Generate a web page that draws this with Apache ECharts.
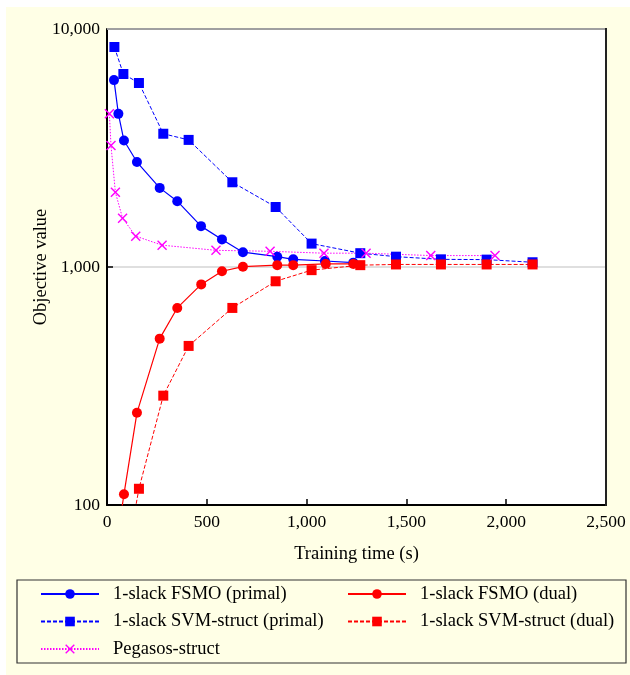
<!DOCTYPE html>
<html>
<head>
<meta charset="utf-8">
<script src="https://cdn.jsdelivr.net/npm/echarts@6/dist/echarts.min.js"></script>
<style>html,body{margin:0;padding:0;background:#fff;}#c{width:630px;height:675px;}</style>
</head>
<body>
<div id="c"></div>
<script>
const xTicks = [0, 500, 1000, 1500, 2000, 2500];
const yTicks = [100, 1000, 10000];

const fsmoPrimalX = [35, 57, 85, 150, 264, 352, 471, 576, 681, 853, 933, 1092, 1234];
const fsmoPrimalY = [6100, 4400, 3400, 2760, 2150, 1890, 1485, 1306, 1154, 1105, 1077, 1060, 1043];

const fsmoDualX = [57, 85, 150, 264, 352, 472, 576, 681, 853, 933, 1096, 1234];
const fsmoDualY = [77, 111, 244, 500, 673, 845, 960, 1003, 1018, 1018, 1030, 1030];

const svmPrimalX = [37, 82, 160, 282, 409, 628, 845, 1025, 1269, 1448, 1673, 1902, 2132];
const svmPrimalY = [8400, 6470, 5930, 3630, 3420, 2270, 1787, 1254, 1143, 1105, 1077, 1074, 1047];

const svmDualX = [82, 160, 282, 409, 628, 845, 1025, 1269, 1448, 1673, 1902, 2132];
const svmDualY = [51, 117, 288, 466, 673, 871, 970, 1018, 1025, 1025, 1025, 1025];

const pegasosX = [12, 20, 42, 78, 144, 276, 546, 817, 1087, 1298, 1622, 1944];
const pegasosY = [4400, 3240, 2060, 1603, 1348, 1235, 1175, 1164, 1143, 1143, 1117, 1117];

const names = {
  fp: '1-slack FSMO (primal)',
  fd: '1-slack FSMO (dual)',
  sp: '1-slack SVM-struct (primal)',
  sd: '1-slack SVM-struct (dual)',
  pg: 'Pegasos-struct'
};

function pairs(xs, ys) { return xs.map((x, i) => [x, ys[i]]); }
function fmt(v) { return String(v).replace(/\B(?=(\d{3})+(?!\d))/g, ','); }

const FONT = 'Liberation Serif';
const BLUE = '#0000ff', RED = '#ff0000', MAG = '#ff00ff';
const XPATH = 'path://M0,1L1,0L5,4L9,0L10,1L6,5L10,9L9,10L5,6L1,10L0,9L4,5Z';

const legendText = {fontFamily: FONT, fontSize: 18.5, color: '#000', lineHeight: 20, padding: [0, 0, 0, 9]};

const chart = echarts.init(document.getElementById('c'), null, {renderer: 'canvas'});
chart.setOption({
  animation: false,
  backgroundColor: '#ffffff',
  graphic: [
    {type: 'rect', z: -10, shape: {x: 6, y: 7, width: 624, height: 668}, style: {fill: '#ffffe6'}},
    {type: 'rect', z: -9, shape: {x: 107, y: 29, width: 499, height: 476}, style: {fill: '#ffffff'}},
    {type: 'line', z: 1, shape: {x1: 107, y1: 29, x2: 606, y2: 29}, style: {stroke: '#a0a0a0', lineWidth: 2}},
    {type: 'line', z: 1, shape: {x1: 606, y1: 28, x2: 606, y2: 506}, style: {stroke: '#222', lineWidth: 2}},
    {type: 'rect', z: -8, shape: {x: 17, y: 580, width: 609, height: 83}, style: {fill: 'none', stroke: '#333', lineWidth: 1.2}}
  ],
  grid: {left: 107, top: 29, width: 499, height: 476, containLabel: false},
  xAxis: {
    type: 'value', min: 0, max: 2500, interval: 500,
    name: 'Training time (s)', nameLocation: 'middle', nameGap: 40, nameMoveOverlap: false,
    nameTextStyle: {fontFamily: FONT, fontSize: 18.5, color: '#000'},
    axisLine: {lineStyle: {color: '#000', width: 2}},
    axisTick: {inside: true, length: 6, lineStyle: {color: '#000', width: 1.5}},
    axisLabel: {fontFamily: FONT, fontSize: 17.5, color: '#000', margin: 8, formatter: v => fmt(v)},
    splitLine: {show: false}
  },
  yAxis: {
    type: 'log', logBase: 10, min: 100, max: 10000,
    name: 'Objective value', nameLocation: 'middle', nameGap: 56, nameMoveOverlap: false,
    nameTextStyle: {fontFamily: FONT, fontSize: 18.5, color: '#000'},
    axisLine: {lineStyle: {color: '#000', width: 2}},
    axisTick: {inside: true, length: 6, lineStyle: {color: '#000', width: 1.5}},
    axisLabel: {fontFamily: FONT, fontSize: 17.5, color: '#000', margin: 7, formatter: v => fmt(Math.round(v))},
    minorTick: {show: false},
    splitLine: {show: true, lineStyle: {color: '#d4d4d4', width: 1.5}}
  },
  legend: [
    {
      left: 40, top: 584, padding: 0, orient: 'vertical', itemWidth: 58, itemHeight: 12, itemGap: 7.5,
      selectedMode: false,
      data: [names.fp, names.sp, names.pg],
      textStyle: legendText
    },
    {
      left: 347, top: 584, padding: 0, orient: 'vertical', itemWidth: 58, itemHeight: 12, itemGap: 7.5,
      selectedMode: false,
      data: [names.fd, names.sd],
      textStyle: legendText
    }
  ],
  series: [
    {
      name: names.sp, type: 'line', data: pairs(svmPrimalX, svmPrimalY),
      symbol: 'rect', symbolSize: 10, clip: true,
      itemStyle: {color: BLUE}, lineStyle: {color: BLUE, width: 1, type: [4, 2]}
    },
    {
      name: names.fp, type: 'line', data: pairs(fsmoPrimalX, fsmoPrimalY),
      symbol: 'circle', symbolSize: 10, clip: true,
      itemStyle: {color: BLUE}, lineStyle: {color: BLUE, width: 1.2, type: 'solid'}
    },
    {
      name: names.sd, type: 'line', data: pairs(svmDualX, svmDualY),
      symbol: 'rect', symbolSize: 10, clip: true,
      itemStyle: {color: RED}, lineStyle: {color: RED, width: 1, type: [4, 2]}
    },
    {
      name: names.fd, type: 'line', data: pairs(fsmoDualX, fsmoDualY),
      symbol: 'circle', symbolSize: 10, clip: true,
      itemStyle: {color: RED}, lineStyle: {color: RED, width: 1.2, type: 'solid'}
    },
    {
      name: names.pg, type: 'line', data: pairs(pegasosX, pegasosY),
      symbol: XPATH, symbolSize: 10, clip: true,
      itemStyle: {color: MAG}, lineStyle: {color: MAG, width: 1, type: [1.5, 1.5]}
    }
  ]
});
</script>
</body>
</html>
